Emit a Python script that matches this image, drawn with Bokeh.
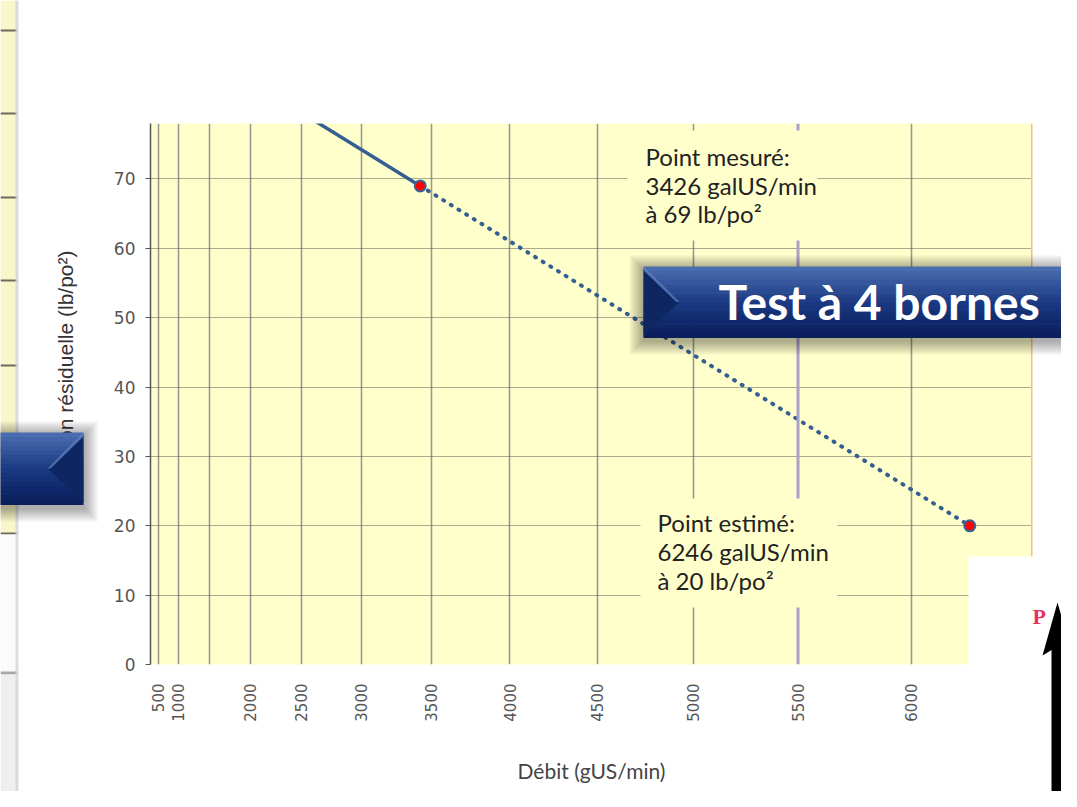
import numpy as np
from math import pi
from bokeh.plotting import figure
from bokeh.layouts import column
from bokeh.core.properties import value
from bokeh.models import (FixedTicker, Range1d, BoxAnnotation, Label, Span,
                          CustomJSTickFormatter)
from bokeh.embed import file_html
from bokeh.resources import INLINE

# ---------------- data ----------------
EXP = 1.85                      # N^1.85 hydraulic graph paper
flow_ticks = [500, 1000, 2000, 2500, 3000, 3500, 4000, 4500, 5000, 5500, 6000]
flow_grid = [500, 1000, 1500, 2000, 2500, 3000, 3500, 4000, 4500, 5000, 6000]
flow_highlight = 5500
flow_max = 6500
pressure_ticks = [0, 10, 20, 30, 40, 50, 60, 70]
pressure_max = 78

solid_flow = [0, 3426]
solid_pressure = [93, 69]
dotted_flow = [3426, 6246]
dotted_pressure = [69, 20]
point_flow = [3426, 6246]
point_pressure = [69, 20]

measured_text = ["Point mesuré:", "3426 galUS/min", "à 69 lb/po²"]
estimated_text = ["Point estimé:", "6246 galUS/min", "à 20 lb/po²"]
x_title = "Débit (gUS/min)"
y_title = "Pression résiduelle (lb/po²)"
banner_text = "Test à 4 bornes"


def t(q):
    return np.asarray(q, dtype=float) ** EXP / 1e6


# ---------------- geometry (pixels) ----------------
W, H = 1061, 791
FL, FR, FT, FB = 150, 1032, 123, 664
XEND = float(t(flow_max))


def sx(px):
    return (px - FL) / (FR - FL) * XEND


def sy(py):
    return (FB - py) / (FB - FT) * pressure_max


# ================= chart =================
p = figure(width=W, height=H, output_backend="svg", toolbar_location=None,
           x_range=Range1d(0, XEND), y_range=Range1d(0, pressure_max),
           min_border_left=FL, min_border_right=W - FR, min_border_top=FT,
           min_border_bottom=H - FB, frame_align=False)
p.background_fill_color = "#ffffcc"
p.border_fill_color = "white"
p.outline_line_color = None

p.xgrid.ticker = FixedTicker(ticks=[float(v) for v in t(flow_grid)])
p.xgrid.grid_line_color = "#9a9a94"
p.xgrid.grid_line_width = 1.6
p.ygrid.ticker = FixedTicker(ticks=pressure_ticks)
p.ygrid.grid_line_color = "#555555"
p.ygrid.grid_line_width = 1
p.ygrid.grid_line_dash = "1 1"

p.add_layout(Span(location=float(t(flow_highlight)), dimension="height",
                  line_color="#aaa0cc", line_width=3))
p.add_layout(Span(location=XEND, dimension="height",
                  line_color="#f5b8a0", line_width=3))

xa = p.xaxis[0]
xa.ticker = FixedTicker(ticks=[float(v) for v in t(flow_ticks)])
xa.formatter = CustomJSTickFormatter(
    code="return (Math.round(Math.pow(tick*1e6, 1/1.85)/50)*50).toString();")
xa.major_label_orientation = pi / 2
xa.major_tick_out = 0
xa.major_tick_in = 0
xa.minor_tick_line_color = None
xa.axis_line_color = None
xa.major_label_standoff = 19
xa.major_label_text_font = "DejaVu Sans"
xa.major_label_text_font_size = "15px"
xa.major_label_text_color = "#555555"
xa.axis_label = x_title
xa.axis_label_text_font = "Lato"
xa.axis_label_text_font_style = "normal"
xa.axis_label_text_font_size = "21px"
xa.axis_label_text_color = "#444444"
xa.axis_label_standoff = 33

ya = p.yaxis[0]
ya.ticker = FixedTicker(ticks=pressure_ticks)
ya.major_tick_out = 5
ya.major_tick_in = 0
ya.minor_tick_line_color = None
ya.major_tick_line_color = "#555555"
ya.axis_line_color = "#555555"
ya.axis_line_width = 1.5
ya.major_label_standoff = 10
ya.major_label_text_font = "DejaVu Sans"
ya.major_label_text_font_size = "17px"
ya.major_label_text_color = "#555555"

p.line(t(solid_flow), solid_pressure, line_color="#355f92", line_width=3.5)
p.line(t(dotted_flow), dotted_pressure, line_color="#355f92", line_width=4,
       line_dash="1 8", line_cap="round")
p.scatter(t(point_flow), point_pressure, size=11, fill_color="#ff0000",
          line_color="#3a6496", line_width=2)


def cbox(l, tp, r, b, color):
    p.add_layout(BoxAnnotation(left=sx(l), right=sx(r), top=sy(tp), bottom=sy(b),
                               fill_color=color, fill_alpha=1.0, line_color=None))


def clabel(px, py, text, size):
    p.add_layout(Label(x=sx(px), y=sy(py), text=text, text_font="Lato",
                       text_font_size=size, text_color="#222222",
                       text_baseline="alphabetic"))


cbox(627, 130, 817, 240, "#ffffcc")
for i, s in enumerate(measured_text):
    clabel(645, 156 + 28.5 * i, s, "24px")
cbox(640, 498, 837, 607, "#ffffcc")
for i, s in enumerate(estimated_text):
    clabel(657, 522 + 29 * i, s, "24px")

# ================= slide overlay (transparent, on top) =================
o = figure(width=W, height=H, output_backend="svg", toolbar_location=None,
           x_range=Range1d(0, W), y_range=Range1d(0, H),
           x_axis_location=None, y_axis_location=None, min_border=0,
           frame_align=False, styles={"margin-top": "-%dpx" % H})
o.background_fill_color = None
o.border_fill_color = None
o.outline_line_color = None
o.grid.visible = False


def Y(py):
    return H - py


def box(l, tp, r, b, color, alpha=1.0):
    o.quad(left=[l], right=[r], top=[Y(tp)], bottom=[Y(b)], fill_color=color,
           fill_alpha=alpha, line_color=None)


def poly(pts, color, alpha=1.0):
    o.patch([a for a, _ in pts], [Y(b) for _, b in pts], fill_color=color,
            fill_alpha=alpha, line_color=None)


def label(px, py, text, size, color="#222222", font="Lato", style="normal",
          align="left", baseline="alphabetic", angle=0.0):
    o.add_layout(Label(x=px, y=Y(py), text=text, text_font=font,
                       text_font_size=size, text_color=color,
                       text_font_style=style, text_align=align,
                       text_baseline=baseline, angle=angle))


# left slide background strip
box(0, 0, 17, 534, "#f9f7c9")
for yy in [30, 113, 197, 280, 365, 449, 533]:
    box(0, yy - 1, 17, yy + 1, "#6a6a60")
box(0, 534, 17, 672, "#fbfbfb")
box(0, 671, 17, 674, "#a8a8a8")
box(0, 674, 17, H, "#efefef")
box(15, 0, 18, H, "#d4d4d4", 0.8)

# y axis title, drawn below the banner so its start is hidden as in the slide
o.text(x=[65], y=[Y(250)], text=[y_title], angle=pi / 2, text_align="right",
       text_baseline="middle", text_font=value("Liberation Sans"),
       text_font_size="21px", text_color="#333333")


def banner(l, tp, r, b, facet_left=True):
    for i in range(1, 8):
        e = 2 * i
        box(l - e, tp - e + 3, r + e, b + e + 3, "black", 0.05)
    n = 16
    top_c = np.array([0x4a, 0x6d, 0xb0])
    mid_c = np.array([0x1b, 0x3a, 0x84])
    bot_c = np.array([0x0a, 0x1f, 0x5c])
    h = (b - tp) / n
    for k in range(n):
        f = k / (n - 1)
        if f < 0.5:
            c = top_c + (mid_c - top_c) * (f / 0.5)
        else:
            c = mid_c + (bot_c - mid_c) * ((f - 0.5) / 0.5)
        col = "#%02x%02x%02x" % tuple(int(v) for v in c)
        box(l, tp + k * h, r, tp + (k + 1) * h + 0.6, col)
    mid = (tp + b) / 2
    if facet_left:
        poly([(l, tp + 2), (l + 36, mid), (l, b - 2)], "#0e2762")
        poly([(l, tp), (l + 36, mid), (l + 33, mid), (l, tp + 4)], "#6a8ccc", 0.7)
    else:
        poly([(r, tp + 2), (r - 36, mid), (r, b - 2)], "#0e2762")
        poly([(r, tp), (r - 36, mid), (r - 33, mid), (r, tp + 4)], "#6a8ccc", 0.7)


banner(643, 266, 1090, 337, facet_left=True)
label(718, 301, banner_text, "48px", color="white", style="bold")
banner(-20, 432, 83, 504, facet_left=False)

# lower-right slide object
box(968, 556, 1080, 810, "white")
box(1051, 645, 1062, 810, "black")
poly([(1042, 655), (1057, 602), (1072, 655), (1057, 646)], "black")
box(1062, 688, 1080, 690, "#444444")
label(1032, 616, "P", "22px", color="#e8335f", font="Liberation Serif", style="bold")

layout = column(p, o)
open("out.html", "w").write(file_html(layout, INLINE))
